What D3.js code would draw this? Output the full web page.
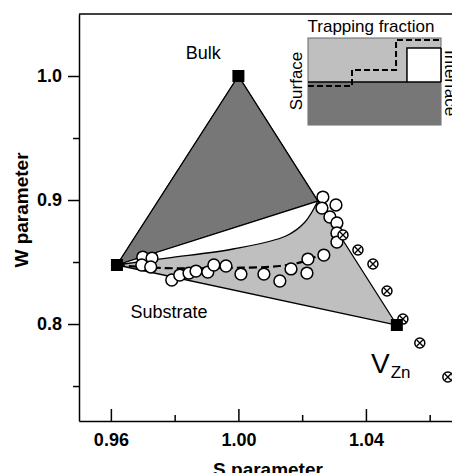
<!DOCTYPE html>
<html>
<head>
<meta charset="utf-8">
<script src="https://cdn.jsdelivr.net/npm/d3@7"></script>
<style>
  body { margin: 0; background: #fff; }
  svg { display: block; font-family: "Liberation Sans", Arial, Helvetica, sans-serif; }
</style>
</head>
<body>
<div id="chart"></div>
<script>
// axis ticks
var sTicks = [0.96, 1.00, 1.04];
var sMinor = [0.98, 1.02, 1.06];
var wTicks = [0.8, 0.9, 1.0];
var wMinor = [0.75, 0.85, 0.95];

// end points of the triangle [S, W]
var bulkPt = [1.000, 1.000];
var substratePt = [0.9619, 0.8476];
var vznPt = [1.0497, 0.7992];
// where the dividing line meets the bulk - VZn edge
var dividerPt = [1.0249, 0.8992];

// lower edge of the white lens (from substrate to divider point)
var lensCurve = [[0.9619, 0.8476], [0.9776, 0.8532], [0.9983, 0.8605], [1.0149, 0.8710], [1.0209, 0.8823], [1.0249, 0.8992]];

// dashed model curve
var dashCurve = [[0.9619, 0.8476], [0.9754, 0.8452], [0.9942, 0.8452], [1.0130, 0.8468], [1.0209, 0.8508], [1.0278, 0.8589]];

// open circles: measured S and W
var openS = [0.9700, 0.9729, 0.9697, 0.9725, 0.9791, 0.9816, 0.9845, 0.9867, 0.9904, 0.9923, 0.9961, 1.0008, 1.0080, 1.0130, 1.0165, 1.0215, 1.0218, 1.0268, 1.0265, 1.0262, 1.0306, 1.0287, 1.0309, 1.0309, 1.0309];
var openW = [0.8540, 0.8532, 0.8476, 0.8460, 0.8355, 0.8395, 0.8411, 0.8427, 0.8419, 0.8476, 0.8468, 0.8403, 0.8403, 0.8347, 0.8444, 0.8411, 0.8524, 0.8556, 0.9024, 0.8935, 0.8960, 0.8863, 0.8815, 0.8734, 0.8661];

// crossed circles
var crossS = [1.0328, 1.0375, 1.0422, 1.0466, 1.0516, 1.0569, 1.0657];
var crossW = [0.8718, 0.8597, 0.8484, 0.8266, 0.8040, 0.7847, 0.7573];

// inset: trapping fraction schematic (fractions of the box)
var insetSolid = [[0, 0.494], [0.744, 0.494], [0.744, 0.885], [1, 0.885]];
var insetDash = [[0, 0.448], [0.331, 0.448], [0.331, 0.632], [0.662, 0.632], [0.662, 0.977], [1, 0.977]];

var width = 452, height = 473;
var dark = '#777777', light = '#bfbfbf';

var svg = d3.select('#chart').append('svg')
    .attr('width', width)
    .attr('height', height);

var x = d3.scaleLinear().domain([0.95, 1.067]).range([79, 452]);
var y = d3.scaleLinear().domain([0.7218, 1.05]).range([421, 14]);

var poly = d3.line().x(function(d){ return x(d[0]); }).y(function(d){ return y(d[1]); });

// big triangle, light grey
svg.append('path')
    .attr('d', poly([substratePt, bulkPt, vznPt]) + 'Z')
    .attr('fill', light)
    .attr('stroke', '#000')
    .attr('stroke-width', 1.3)
    .attr('stroke-linejoin', 'round');

// upper part, dark grey
svg.append('path')
    .attr('d', poly([substratePt, bulkPt, dividerPt]) + 'Z')
    .attr('fill', dark)
    .attr('stroke', '#000')
    .attr('stroke-width', 1.3)
    .attr('stroke-linejoin', 'round');

// white lens
var curved = d3.line()
    .x(function(d){ return x(d[0]); })
    .y(function(d){ return y(d[1]); })
    .curve(d3.curveCatmullRom.alpha(0.5));

svg.append('path')
    .attr('d', curved(lensCurve) + 'Z')
    .attr('fill', '#fff')
    .attr('stroke', '#000')
    .attr('stroke-width', 1.3);

// dashed line
svg.append('path')
    .attr('d', curved(dashCurve))
    .attr('fill', 'none')
    .attr('stroke', '#000')
    .attr('stroke-width', 2.2)
    .attr('stroke-dasharray', '8,4');

// open circles
var openData = openS.map(function(s, i){ return [s, openW[i]]; });
svg.selectAll('.open')
    .data(openData)
    .enter()
    .append('circle')
    .attr('class', 'open')
    .attr('cx', function(d){ return x(d[0]); })
    .attr('cy', function(d){ return y(d[1]); })
    .attr('r', 5.9)
    .attr('fill', '#fff')
    .attr('stroke', '#000')
    .attr('stroke-width', 1.5);

// crossed circles
var crossData = crossS.map(function(s, i){ return [s, crossW[i]]; });
var cg = svg.selectAll('.cross')
    .data(crossData)
    .enter()
    .append('g')
    .attr('class', 'cross')
    .attr('transform', function(d){ return 'translate(' + x(d[0]) + ',' + y(d[1]) + ')'; });
cg.append('circle')
    .attr('r', 5)
    .attr('fill', '#fff')
    .attr('stroke', '#000')
    .attr('stroke-width', 1.5);
cg.append('path')
    .attr('d', 'M-3,-3L3,3M-3,3L3,-3')
    .attr('stroke', '#000')
    .attr('stroke-width', 1.3);

// black squares at the corners
svg.selectAll('.corner')
    .data([bulkPt, substratePt, vznPt])
    .enter()
    .append('rect')
    .attr('class', 'corner')
    .attr('x', function(d){ return x(d[0]) - 6; })
    .attr('y', function(d){ return y(d[1]) - 6; })
    .attr('width', 12)
    .attr('height', 12)
    .attr('fill', '#000');

// labels
svg.append('text')
    .attr('x', x(0.9890)).attr('y', y(1.0137))
    .attr('text-anchor', 'middle')
    .style('font-size', '18px')
    .text('Bulk');

svg.append('text')
    .attr('x', x(0.9782)).attr('y', y(0.8048))
    .attr('text-anchor', 'middle')
    .style('font-size', '18px')
    .text('Substrate');

var vz = svg.append('text')
    .attr('x', x(1.0416)).attr('y', y(0.7605))
    .style('font-size', '28px')
    .text('V');
vz.append('tspan')
    .attr('dx', 1).attr('dy', 5)
    .style('font-size', '17px')
    .text('Zn');

// axes
svg.append('g')
    .attr('transform', 'translate(79,0)')
    .call(d3.axisLeft(y).tickValues(wTicks).tickFormat(d3.format('.1f')).tickSizeInner(11).tickSizeOuter(0).tickPadding(6));
svg.append('g')
    .attr('transform', 'translate(79,0)')
    .call(d3.axisLeft(y).tickValues(wMinor).tickFormat('').tickSizeInner(6).tickSizeOuter(0))
    .select('.domain').remove();

svg.append('g')
    .attr('transform', 'translate(0,421)')
    .call(d3.axisBottom(x).tickValues(sTicks).tickFormat(d3.format('.2f')).tickSizeInner(-12).tickSizeOuter(0).tickPadding(12));
svg.append('g')
    .attr('transform', 'translate(0,421)')
    .call(d3.axisBottom(x).tickValues(sMinor).tickFormat('').tickSizeInner(-6).tickSizeOuter(0))
    .select('.domain').remove();

svg.selectAll('.domain, .tick line').attr('stroke', '#000').attr('stroke-width', 1.5);
svg.selectAll('.tick text')
    .attr('fill', '#000')
    .style('font-family', '"Liberation Sans", Arial, sans-serif')
    .style('font-size', '18px')
    .style('font-weight', 'bold');

// top frame line
svg.append('line')
    .attr('x1', 79).attr('x2', width)
    .attr('y1', 14).attr('y2', 14)
    .attr('stroke', '#000')
    .attr('stroke-width', 1.5);

// axis titles
svg.append('text')
    .attr('transform', 'translate(28,210) rotate(-90)')
    .attr('text-anchor', 'middle')
    .style('font-size', '19px')
    .style('font-weight', 'bold')
    .text('W parameter');

svg.append('text')
    .attr('x', 268).attr('y', 476)
    .attr('text-anchor', 'middle')
    .style('font-size', '19px')
    .style('font-weight', 'bold')
    .text('S parameter');

// inset
var ix = d3.scaleLinear().domain([0, 1]).range([308, 441]);
var iy = d3.scaleLinear().domain([0, 1]).range([125, 38]);
var inset = svg.append('g');

inset.append('rect')
    .attr('x', ix(0)).attr('y', iy(1))
    .attr('width', ix(1) - ix(0)).attr('height', iy(0) - iy(1))
    .attr('fill', light)
    .attr('stroke', '#666')
    .attr('stroke-width', 1);
inset.append('rect')
    .attr('x', ix(0)).attr('y', iy(insetSolid[0][1]))
    .attr('width', ix(1) - ix(0)).attr('height', iy(0) - iy(insetSolid[0][1]))
    .attr('fill', dark);
inset.append('rect')
    .attr('x', ix(insetSolid[1][0])).attr('y', iy(insetSolid[2][1]))
    .attr('width', ix(1) - ix(insetSolid[1][0])).attr('height', iy(insetSolid[1][1]) - iy(insetSolid[2][1]))
    .attr('fill', '#fff');

var iline = d3.line().x(function(d){ return ix(d[0]); }).y(function(d){ return iy(d[1]); });
inset.append('path')
    .attr('d', iline(insetSolid))
    .attr('fill', 'none')
    .attr('stroke', '#000')
    .attr('stroke-width', 1.5);
inset.append('line')
    .attr('x1', ix(insetSolid[1][0])).attr('x2', ix(1))
    .attr('y1', iy(insetSolid[1][1])).attr('y2', iy(insetSolid[1][1]))
    .attr('stroke', '#000').attr('stroke-width', 1.5);
inset.append('line')
    .attr('x1', ix(1)).attr('x2', ix(1))
    .attr('y1', iy(insetSolid[2][1])).attr('y2', iy(insetSolid[1][1]))
    .attr('stroke', '#000').attr('stroke-width', 1.5);
inset.append('path')
    .attr('d', iline(insetDash))
    .attr('fill', 'none')
    .attr('stroke', '#000')
    .attr('stroke-width', 2)
    .attr('stroke-dasharray', '6,3');

inset.append('text')
    .attr('x', 371).attr('y', 32)
    .attr('text-anchor', 'middle')
    .style('font-size', '17px')
    .text('Trapping fraction');
inset.append('text')
    .attr('transform', 'translate(302,81) rotate(-90)')
    .attr('text-anchor', 'middle')
    .style('font-size', '17px')
    .text('Surface');
inset.append('text')
    .attr('transform', 'translate(445,50) rotate(90)')
    .style('font-size', '17px')
    .text('Interface');
</script>
</body>
</html>
